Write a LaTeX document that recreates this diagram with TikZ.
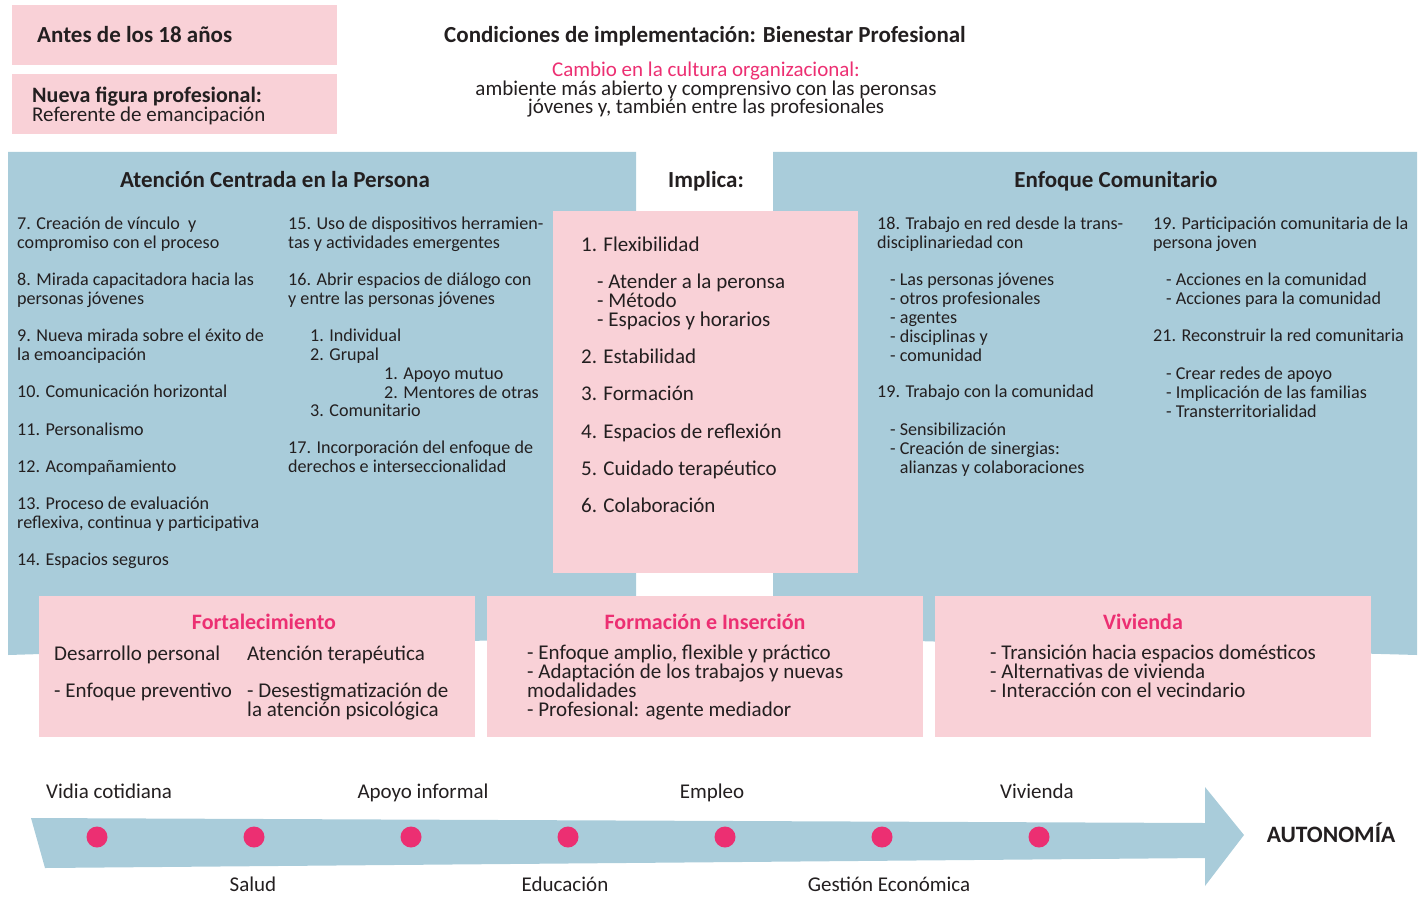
\documentclass[tikz,border=0pt]{standalone}
\usepackage{fontspec}
\setmainfont{Carlito}
\definecolor{rosa}{HTML}{F9D1D7}
\definecolor{azul}{HTML}{A9CCDA}
\definecolor{fucsia}{HTML}{EC2F72}
\definecolor{tinta}{HTML}{231F20}

\begin{document}
\begin{tikzpicture}[x=1pt,y=-1pt]
% multi-line nodes sit on the baseline of their last line
\tikzstyle{txt}=[anchor=base west,align=left,inner sep=0,text=tinta,font=\fontsize{18.1}{19}\selectfont]
\tikzstyle{big}=[txt,font=\fontsize{21}{19}\selectfont]
\tikzstyle{tit}=[anchor=base,inner sep=0,text=tinta,font=\fontsize{23}{24}\selectfont\bfseries]
\tikzstyle{rtit}=[tit,text=fucsia,font=\fontsize{22}{24}\selectfont\bfseries]
\tikzstyle{lbl}=[anchor=base,inner sep=0,text=tinta,font=\fontsize{21}{19}\selectfont]
\tikzstyle{dot}=[circle,fill=fucsia,minimum size=21pt,inner sep=0]
\useasboundingbox (0,0) rectangle (1420,896);

% fondos
\fill[azul] (8,152) -- (636,152) -- (636,636) -- (8,655) -- cycle;
\fill[azul] (773,152) -- (1417,152) -- (1417,655) -- (773,637) -- cycle;
\fill[rosa] (12,5) rectangle (337,65);
\fill[rosa] (12,74) rectangle (337,134);
\fill[rosa] (553,211) rectangle (858,573);
\fill[rosa] (39,596) rectangle (475,737);
\fill[rosa] (487,596) rectangle (923,737);
\fill[rosa] (935,596) rectangle (1371,737);
\fill[azul] (31,818) -- (1205,823) -- (1205,787) -- (1244,835) -- (1205,886) -- (1205,858) -- (45,868) -- cycle;

% cabecera
\node[tit,anchor=base west] (antes) at (37,43) {Antes de los 18 años};
\node[big] (figura) at (32,122) {{\fontsize{22}{19}\selectfont\bfseries Nueva figura profesional:}\\Referente de emancipación};
\node[tit] (titulo) at (705,43) {Condiciones de implementación: Bienestar Profesional};
\node[lbl,align=center,font=\fontsize{21}{18.5}\selectfont] (cambio) at (706,114) {{\color{fucsia}Cambio en la cultura organizacional:}\\ambiente más abierto y comprensivo con las peronsas\\jóvenes y, también entre las profesionales};

% columnas
\node[tit] (acp) at (275,187) {Atención Centrada en la Persona};
\node[tit] (implica) at (706,187) {Implica:};
\node[tit] (ec) at (1116,187) {Enfoque Comunitario};

\node[txt] (acp7) at (17,248) {7. Creación de vínculo~ y\\compromiso con el proceso};
\node[txt] (acp8) at (17,304) {8. Mirada capacitadora hacia las\\personas jóvenes};
\node[txt] (acp9) at (17,360) {9. Nueva mirada sobre el éxito de\\la emoancipación};
\node[txt] (acp10) at (17,397) {10. Comunicación horizontal};
\node[txt] (acp11) at (17,435) {11. Personalismo};
\node[txt] (acp12) at (17,472) {12. Acompañamiento};
\node[txt] (acp13) at (17,528) {13. Proceso de evaluación\\reflexiva, continua y participativa};
\node[txt] (acp14) at (17,565) {14. Espacios seguros};
\node[txt] (acp15) at (288,248) {15. Uso de dispositivos herramien-\\tas y actividades emergentes};
\node[txt] (acp16) at (288,304) {16. Abrir espacios de diálogo con\\y entre las personas jóvenes};
\node[txt] (acp16a) at (310,360) {1. Individual\\2. Grupal};
\node[txt] (acp16b) at (384,398) {1. Apoyo mutuo\\2. Mentores de otras};
\node[txt] (acp16c) at (310,416) {3. Comunitario};
\node[txt] (acp17) at (288,472) {17. Incorporación del enfoque de\\derechos e interseccionalidad};

\node[big] (imp1) at (581,251) {1. Flexibilidad};
\node[big] (imp1a) at (597,326) {- Atender a la peronsa\\- Método\\- Espacios y horarios};
\node[big] (imp2) at (581,363) {2. Estabilidad};
\node[big] (imp3) at (581,400) {3. Formación};
\node[big] (imp4) at (581,438) {4. Espacios de reflexión};
\node[big] (imp5) at (581,475) {5. Cuidado terapéutico};
\node[big] (imp6) at (581,512) {6. Colaboración};

\node[txt] (ec18) at (877,248) {18. Trabajo en red desde la trans-\\disciplinariedad con};
\node[txt] (ec18a) at (890,361) {- Las personas jóvenes\\- otros profesionales\\- agentes\\- disciplinas y\\- comunidad};
\node[txt] (ec19) at (877,397) {19. Trabajo con la comunidad};
\node[txt] (ec19a) at (890,473) {- Sensibilización\\- Creación de sinergias:\\\phantom{- }alianzas y colaboraciones};
\node[txt] (ec20) at (1153,248) {19. Participación comunitaria de la\\persona joven};
\node[txt] (ec20a) at (1166,304) {- Acciones en la comunidad\\- Acciones para la comunidad};
\node[txt] (ec21) at (1153,341) {21. Reconstruir la red comunitaria};
\node[txt] (ec21a) at (1166,417) {- Crear redes de apoyo\\- Implicación de las familias\\- Transterritorialidad};

% cajas inferiores
\node[rtit] (forta) at (264,629) {Fortalecimiento};
\node[big] (fo1) at (54,660) {Desarrollo personal};
\node[big] (fo2) at (247,660) {Atención terapéutica};
\node[big] (fo3) at (54,697) {- Enfoque preventivo};
\node[big] (fo4) at (247,716) {- Desestigmatización de\\la atención psicológica};
\node[rtit] (forma) at (705,629) {Formación e Inserción};
\node[big,font=\fontsize{21}{18.7}\selectfont] (fi1) at (527,716) {- Enfoque amplio, flexible y práctico\\- Adaptación de los trabajos y nuevas\\modalidades\\- Profesional: agente mediador};
\node[rtit] (vivi) at (1143,629) {Vivienda};
\node[big,font=\fontsize{21}{18.7}\selectfont] (vi1) at (990,697) {- Transición hacia espacios domésticos\\- Alternativas de vivienda\\- Interacción con el vecindario};

% flecha
\foreach \i/\x in {1/97,2/254,3/411,4/568,5/725,6/882,7/1039}
  \node[dot] (p\i) at (\x,837) {};
\node[lbl,anchor=base west] (vida) at (46,798) {Vidia cotidiana};
\node[lbl] (apoyo) at (423,798) {Apoyo informal};
\node[lbl] (empleo) at (712,798) {Empleo};
\node[lbl] (vivienda) at (1037,798) {Vivienda};
\node[lbl] (salud) at (253,891) {Salud};
\node[lbl] (educa) at (565,891) {Educación};
\node[lbl] (gestion) at (889,891) {Gestión Económica};
\node[tit,font=\fontsize{23.5}{24}\selectfont\bfseries] (autonomia) at (1331,842) {AUTONOMÍA};
\end{tikzpicture}
\end{document}
